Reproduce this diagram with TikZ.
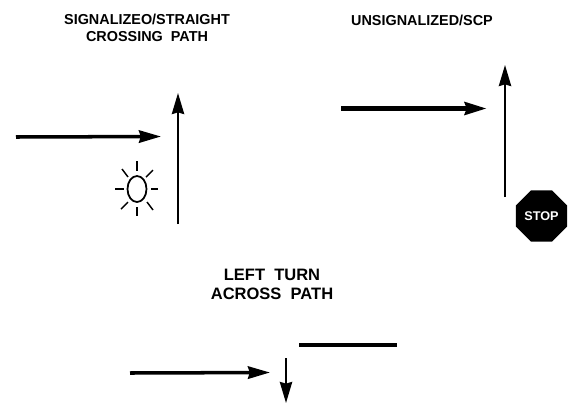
\documentclass[tikz,border=0pt]{standalone}
\usepackage{fontspec}
\setmainfont{Liberation Sans}
\usetikzlibrary{arrows.meta,shapes.geometric}

\tikzset{
  heading/.style={font=\fontsize{8.2}{9.6}\selectfont\bfseries, align=center, inner sep=0pt},
  thinpath/.style={line width=1.2pt, -{Stealth[length=12pt, width=7pt, inset=1pt]}},
  widepath/.style={line width=2pt, -{Stealth[length=12.5pt, width=7pt, inset=1pt]}},
  ray/.style={line width=0.8pt},
}

\begin{document}
\begin{tikzpicture}[x=0.02cm, y=-0.02cm]
  \useasboundingbox (0, 0) rectangle (571, 403);
  % Headings
  \node[heading] (signalized) at (147, 28) {SIGNALIZEO/STRAIGHT\\CROSSING\ \ PATH};
  \node[heading] (unsignalized) at (422, 20) {UNSIGNALIZED/SCP};
  \node[heading, font=\fontsize{9.4}{10.8}\selectfont\bfseries] (leftturn) at (272, 284) {LEFT\ \ TURN\\ACROSS\ \ PATH};

  % Signalized paths
  \coordinate (s1) at (16, 137);
  \coordinate (s2) at (161, 136.5);
  \coordinate (s3) at (178, 224);
  \coordinate (s4) at (178, 93);
  \draw[widepath] (s1) -- (s2);
  \draw[thinpath] (s3) -- (s4);

  % Signal light
  \draw[line width=1pt] (137, 189) ellipse (9.5 and 13);
  \draw[ray] (137, 161) -- (137, 171);
  \draw[ray] (137, 207) -- (137, 216);
  \draw[ray] (115, 189) -- (124, 189);
  \draw[ray] (151, 189) -- (158, 189);
  \draw[ray] (122, 169) -- (128, 177);
  \draw[ray] (153, 170) -- (146, 177);
  \draw[ray] (128, 202) -- (121, 209);
  \draw[ray] (147, 202) -- (153, 210);

  % Unsignalized paths
  \coordinate (u1) at (341, 108.5);
  \coordinate (u2) at (487, 108.5);
  \coordinate (u3) at (505, 197);
  \coordinate (u4) at (505, 65);
  \draw[widepath, line width=2.9pt] (u1) -- (u2);
  \draw[thinpath] (u3) -- (u4);

  % Stop sign
  \node[regular polygon, regular polygon sides=8, fill=black, minimum size=31.5pt, inner sep=0pt,
        text=white, font=\fontsize{7.2}{8}\selectfont\bfseries] (stop) at (541.5, 216) {STOP};

  % Left turn paths
  \coordinate (l1) at (130, 373);
  \coordinate (l2) at (270, 372.5);
  \coordinate (l3) at (286, 358);
  \coordinate (l4) at (286, 403);
  \coordinate (l5) at (299, 345);
  \coordinate (l6) at (397, 345);
  \draw[widepath] (l1) -- (l2);
  \draw[thinpath] (l3) -- (l4);
  \draw[line width=2.3pt] (l5) -- (l6);
\end{tikzpicture}
\end{document}
